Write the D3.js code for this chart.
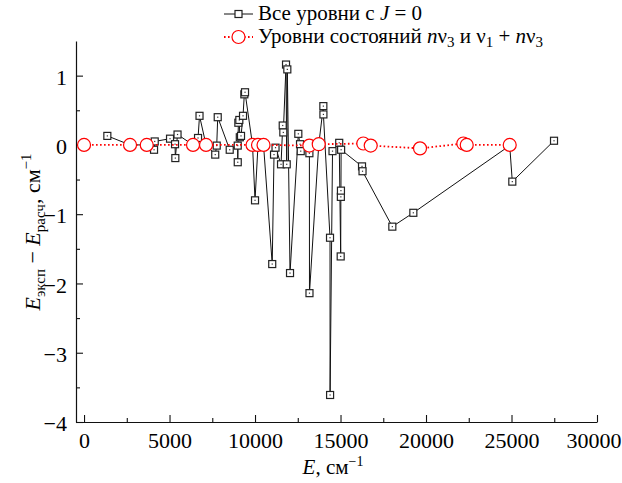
<!DOCTYPE html>
<html>
<head>
<meta charset="utf-8">
<script src="https://cdn.jsdelivr.net/npm/d3@7"></script>
<style>
  body { margin: 0; background: #fff; }
  svg { display: block; }
  svg text { font-family: "Liberation Serif", "Tinos", "DejaVu Serif", "Noto Serif", serif; fill: #000; }
</style>
</head>
<body>
<script>
// all levels with J = 0  (energy, cm-1 ; E_exp - E_calc, cm-1)
var allE = [1363, 2690, 3667, 4094, 4134, 5029, 5322, 5339, 5468, 6374, 6667, 6754, 7135,
    7673, 7760, 7819, 8520, 8988, 8990, 9024, 9082, 9110, 9181, 9298, 9375, 9415, 9854,
    10000, 10175, 10497, 11006, 11111, 11199, 11521, 11620, 11655, 11813, 11854, 11889,
    12047, 12532, 12632, 12673, 13177, 13180, 13185, 13726, 13996, 14000, 14386, 14390,
    14532, 14924, 15010, 15020, 15025, 15035, 16258, 16287, 18030, 19259, 24895, 25047, 27486];
var allDiff = [0.13, 0, 0, -0.07, 0.05, 0.09, 0.01, -0.19, 0.15, 0, 0.10, 0.42, 0,
    -0.14, -0.01, 0.40, -0.07, -0.01, -0.25, 0.32, 0.36, 0.11, 0.13, 0.42, 0.73, 0.76, 0,
    -0.80, 0, 0, -1.72, -0.14, -0.04, -0.28, 0.28, 0.18, 1.16, -0.28, 1.09,
    -1.85, 0.16, 0.01, -0.09, 0, -0.12, -2.14, 0, 0.56, 0.44, -1.34, -3.61,
    -0.09, 0.03, -1.61, -0.75, -0.66, -0.07, -0.31, -0.38, -1.18, -0.98, -0.01, -0.53, 0.06];

// n*v3 and v1 + n*v3 levels
var bandE = [0, 2690, 3667, 6374, 7135, 9854, 10175, 10497, 13177, 13726, 16333, 16766,
    19649, 22182, 22381, 24895];
var bandDiff = [0, 0, 0, 0, 0, 0, 0, 0, -0.01, 0.01, 0.02, -0.01, -0.05, 0.02, 0, 0];

var xTicks = [0, 5000, 10000, 15000, 20000, 25000, 30000];
var yTicks = [-4, -3, -2, -1, 0, 1];

var width = 622, height = 483;
var serif = '"Liberation Serif", "Tinos", "DejaVu Serif", "Noto Serif", serif';

var svg = d3.select("body").append("svg")
    .attr("width", width)
    .attr("height", height);

var x = d3.scaleLinear().domain([-470, 30000]).range([76, 597]);
var y = d3.scaleLinear().domain([-4, 1.5]).range([422, 41]);

var allPts = allE.map(function (e, i) { return [e, allDiff[i]]; });
var bandPts = bandE.map(function (e, i) { return [e, bandDiff[i]]; });

// minor ticks
svg.append("g")
    .attr("transform", "translate(0,422)")
    .call(d3.axisBottom(x).tickValues(d3.range(2500, 30000, 5000)).tickSize(-4).tickFormat(""))
    .call(function (g) { g.select(".domain").remove(); });
svg.append("g")
    .attr("transform", "translate(76,0)")
    .call(d3.axisLeft(y).tickValues(d3.range(-3.5, 1.5, 1)).tickSize(-4).tickFormat(""))
    .call(function (g) { g.select(".domain").remove(); });

// major axes
var xAxis = svg.append("g")
    .attr("transform", "translate(0,422)")
    .call(d3.axisBottom(x).tickValues(xTicks).tickSizeInner(-7).tickSizeOuter(0).tickPadding(10)
        .tickFormat(d3.format("d")));
var yAxis = svg.append("g")
    .attr("transform", "translate(76,0)")
    .call(d3.axisLeft(y).tickValues(yTicks).tickSizeInner(-7).tickSizeOuter(0).tickPadding(9)
        .tickFormat(d3.format("d")));

svg.selectAll(".tick line").attr("stroke", "#111").attr("stroke-width", 1.1);
svg.selectAll(".domain").attr("stroke", "#111").attr("stroke-width", 1.2);
svg.selectAll(".tick text")
    .attr("font-family", null)
    .style("font-family", serif)
    .style("font-size", "22px");
yAxis.selectAll(".tick text").attr("dy", "0.4em");
xAxis.selectAll(".tick text").filter(function (d) { return d === 30000; })
    .attr("text-anchor", "end").attr("x", 24);

// black series
var line = d3.line().x(function (d) { return x(d[0]); }).y(function (d) { return y(d[1]); });

svg.append("path")
    .datum(allPts)
    .attr("d", line)
    .attr("fill", "none")
    .attr("stroke", "#111")
    .attr("stroke-width", 1);

var sq = svg.append("g").selectAll("g")
    .data(allPts)
    .enter().append("g")
    .attr("transform", function (d) { return "translate(" + x(d[0]) + "," + y(d[1]) + ")"; });
sq.append("rect")
    .attr("x", -3.5).attr("y", -3.5).attr("width", 7).attr("height", 7)
    .attr("fill", "#fff").attr("stroke", "#222").attr("stroke-width", 1.2);
sq.append("rect")
    .attr("x", -0.6).attr("y", -0.6).attr("width", 1.2).attr("height", 1.2)
    .attr("fill", "#333");

// red series
svg.append("path")
    .datum(bandPts)
    .attr("d", line)
    .attr("fill", "none")
    .attr("stroke", "#f00")
    .attr("stroke-width", 1.8)
    .attr("stroke-dasharray", "1.6,2.4");

svg.append("g").selectAll("circle")
    .data(bandPts)
    .enter().append("circle")
    .attr("cx", function (d) { return x(d[0]); })
    .attr("cy", function (d) { return y(d[1]); })
    .attr("r", 6.5)
    .attr("fill", "#fff")
    .attr("stroke", "#f00")
    .attr("stroke-width", 1.2);

// legend
var leg = svg.append("g");
leg.append("line").attr("x1", 224).attr("x2", 253).attr("y1", 14).attr("y2", 14)
    .attr("stroke", "#111").attr("stroke-width", 1);
leg.append("rect").attr("x", 235).attr("y", 10.5).attr("width", 7).attr("height", 7)
    .attr("fill", "#fff").attr("stroke", "#222").attr("stroke-width", 1.2);
leg.append("line").attr("x1", 224).attr("x2", 253).attr("y1", 37).attr("y2", 37)
    .attr("stroke", "#f00").attr("stroke-width", 1.8).attr("stroke-dasharray", "1.6,2.4");
leg.append("circle").attr("cx", 238.5).attr("cy", 37).attr("r", 6.5)
    .attr("fill", "#fff").attr("stroke", "#f00").attr("stroke-width", 1.2);

var t1 = leg.append("text").attr("x", 258).attr("y", 20).style("font-size", "21px");
t1.append("tspan").text("Все уровни с ");
t1.append("tspan").style("font-style", "italic").text("J");
t1.append("tspan").text(" = 0");

var t2 = leg.append("text").attr("x", 258).attr("y", 43).style("font-size", "21px");
t2.append("tspan").text("Уровни состояний ");
t2.append("tspan").style("font-style", "italic").text("n");
t2.append("tspan").text("ν");
t2.append("tspan").attr("dy", 4).style("font-size", "15px").text("3");
t2.append("tspan").attr("dy", -4).text(" и ν");
t2.append("tspan").attr("dy", 4).style("font-size", "15px").text("1");
t2.append("tspan").attr("dy", -4).text(" + ");
t2.append("tspan").style("font-style", "italic").text("n");
t2.append("tspan").text("ν");
t2.append("tspan").attr("dy", 4).style("font-size", "15px").text("3");

// axis titles
var xl = svg.append("text").attr("x", 333).attr("y", 474).attr("text-anchor", "middle")
    .style("font-size", "21px");
xl.append("tspan").style("font-style", "italic").text("E");
xl.append("tspan").text(", см");
xl.append("tspan").attr("dy", -8).style("font-size", "14px").text("−1");

var yl = svg.append("text")
    .attr("transform", "translate(40,232) rotate(-90)")
    .attr("text-anchor", "middle")
    .style("font-size", "22px");
yl.append("tspan").style("font-style", "italic").text("E");
yl.append("tspan").attr("dy", 5).style("font-size", "15px").text("эксп");
yl.append("tspan").attr("dy", -5).text(" − ");
yl.append("tspan").style("font-style", "italic").text("E");
yl.append("tspan").attr("dy", 5).style("font-size", "15px").text("расч");
yl.append("tspan").attr("dy", -5).text(", см");
yl.append("tspan").attr("dy", -9).style("font-size", "15px").text("−1");
</script>
</body>
</html>
